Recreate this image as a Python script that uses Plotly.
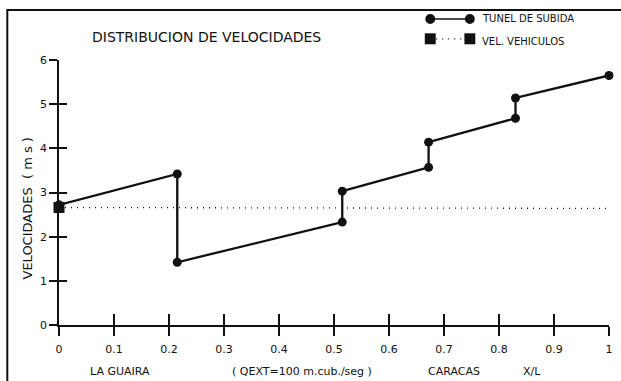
import plotly.graph_objects as go

# Data
tunel_x = [0.0, 0.215, 0.215, 0.515, 0.515, 0.672, 0.672, 0.83, 0.83, 1.0]
tunel_y = [2.72, 3.42, 1.42, 2.33, 3.03, 3.57, 4.14, 4.68, 5.14, 5.65]
veh_x = [0.0, 1.005]
veh_y = [2.66, 2.64]
x_ticks = [0, 0.1, 0.2, 0.3, 0.4, 0.5, 0.6, 0.7, 0.8, 0.9, 1.0]
x_ticktext = ["0", "0.1", "0.2", "0.3", "0.4", "0.5", "0.6", "0.7", "0.8", "0.9", "1"]
y_ticks = [0, 1, 2, 3, 4, 5, 6]

INK = "#111111"
FONT = "DejaVu Sans"

fig = go.Figure()
fig.add_trace(go.Scatter(x=veh_x, y=veh_y, mode="lines+markers",
                         line=dict(color=INK, width=1.3, dash="1px,5px"),
                         marker=dict(symbol="square", size=11, color=INK),
                         cliponaxis=False, showlegend=False))
fig.add_trace(go.Scatter(x=tunel_x, y=tunel_y, mode="lines+markers",
                         line=dict(color=INK, width=2.3),
                         marker=dict(symbol="circle", size=9, color=INK),
                         cliponaxis=False, showlegend=False))
# overlay axes for crossing ticks
fig.add_trace(go.Scatter(x=[None], y=[None], xaxis="x2", yaxis="y2", showlegend=False))

axis_common = dict(showgrid=False, zeroline=False, linecolor=INK, tickcolor=INK)
fig.update_layout(
    width=621, height=381,
    margin=dict(l=59, r=8, t=60, b=56),
    paper_bgcolor="white", plot_bgcolor="white",
    font=dict(family=FONT, size=11, color=INK),
    xaxis=dict(range=[0, 1], tickvals=x_ticks, ticktext=x_ticktext, ticks="outside",
               ticklen=9, tickwidth=1.5, showline=True, linewidth=1.5,
               ticklabelstandoff=4, tickfont=dict(size=11), **axis_common),
    yaxis=dict(range=[0, 6], tickvals=y_ticks, ticks="outside", ticklen=8,
               tickwidth=1.5, showline=True, linewidth=1.5, tickfont=dict(size=11),
               **axis_common),
    xaxis2=dict(overlaying="x", matches="x", range=[0, 1], tickvals=x_ticks, ticks="inside",
                ticklen=11, tickwidth=1.5, showticklabels=False, showline=False,
                showgrid=False, zeroline=False, tickcolor=INK),
    yaxis2=dict(overlaying="y", matches="y", range=[0, 6], tickvals=y_ticks, ticks="inside",
                ticklen=8, tickwidth=1.5, showticklabels=False, showline=False,
                showgrid=False, zeroline=False, tickcolor=INK),
    showlegend=False,
)

# frame border
fig.add_shape(type="rect", xref="paper", yref="paper", x0=-0.094, x1=1.05, y0=-0.4, y1=1.189,
              line=dict(color=INK, width=2))

# legend (custom)
lx0, lx1 = 0.675, 0.747
ly1, ly2 = 1.155, 1.08
fig.add_shape(type="line", xref="paper", yref="paper", x0=lx0, x1=lx1, y0=ly1, y1=ly1,
              line=dict(color=INK, width=1.5))
fig.add_shape(type="line", xref="paper", yref="paper", x0=lx0, x1=lx1, y0=ly2, y1=ly2,
              line=dict(color=INK, width=1.3, dash="1px,5px"))
rx, ry = 5 / 554, 5 / 265
for cx in (lx0, lx1):
    fig.add_shape(type="circle", xref="paper", yref="paper", x0=cx - rx, x1=cx + rx,
                  y0=ly1 - ry, y1=ly1 + ry, fillcolor=INK, line=dict(color=INK, width=0))
    fig.add_shape(type="rect", xref="paper", yref="paper", x0=cx - rx * 1.1, x1=cx + rx * 1.1,
                  y0=ly2 - ry * 1.1, y1=ly2 + ry * 1.1, fillcolor=INK, line=dict(color=INK, width=0))
fig.add_annotation(text="TUNEL DE SUBIDA", xref="paper", yref="paper", x=0.765, y=ly1,
                   xanchor="left", yanchor="middle", showarrow=False, font=dict(size=10))
fig.add_annotation(text="VEL. VEHICULOS", xref="paper", yref="paper", x=0.765, y=ly2 - 0.01,
                   xanchor="left", yanchor="middle", showarrow=False, font=dict(size=10))

# title and labels
fig.add_annotation(text="DISTRIBUCION DE VELOCIDADES", xref="paper", yref="paper",
                   x=0.269, y=1.087, xanchor="center", yanchor="middle", showarrow=False,
                   font=dict(size=14))
fig.add_annotation(text="VELOCIDADES  ( m s )", xref="paper", yref="paper",
                   x=-0.058, y=0.44, textangle=-90, xanchor="center", yanchor="middle",
                   showarrow=False, font=dict(size=13))
bottom = [("LA GUAIRA", 0.11), ("( QEXT=100 m.cub./seg )", 0.442), ("CARACAS", 0.718), ("X/L", 0.86)]
for txt, px in bottom:
    fig.add_annotation(text=txt, xref="paper", yref="paper", x=px, y=-0.177,
                       xanchor="center", yanchor="middle", showarrow=False, font=dict(size=11))

fig.write_html("out.html", config={"displayModeBar": False},
               post_script="document.body.style.margin='0';document.body.style.overflow='hidden';")
